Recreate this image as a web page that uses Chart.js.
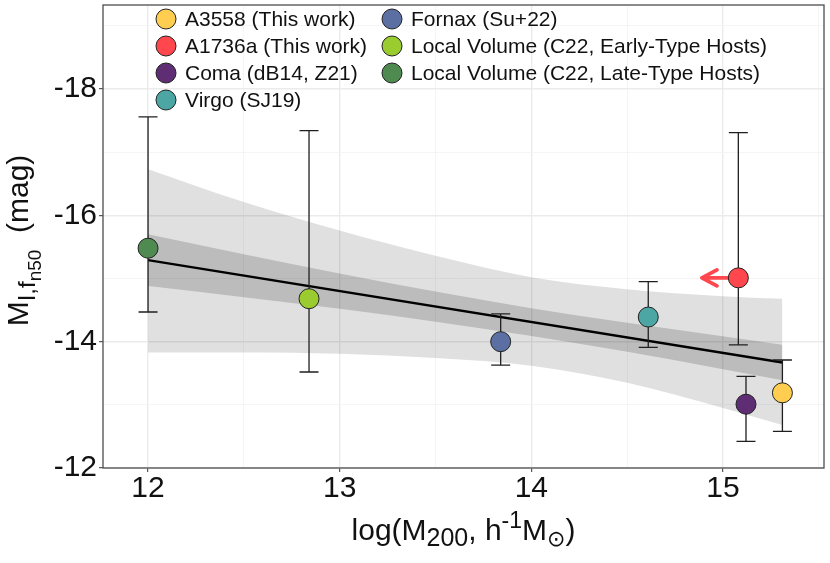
<!DOCTYPE html>
<html>
<head>
<meta charset="utf-8">
<script src="https://cdn.jsdelivr.net/npm/chart.js@4.4.1/dist/chart.umd.min.js"></script>
<style>
  html, body { margin:0; padding:0; background:#fff; }
  #c { display:block; }
</style>
</head>
<body>
<canvas id="c" width="830" height="563"></canvas>
<script>
// ---- data ----
const groups   = ['A3558 (This work)', 'A1736a (This work)', 'Coma (dB14, Z21)', 'Virgo (SJ19)',
                  'Fornax (Su+22)', 'Local Volume (C22, Early-Type Hosts)', 'Local Volume (C22, Late-Type Hosts)'];
const colors   = ['#FFCD4F', '#FF474D', '#5E2D73', '#4BA6A4', '#5C6FA2', '#9BCC2F', '#4F8A50'];
const logM200  = [15.31, 15.08, 15.12, 14.61, 13.84, 12.84, 12.00];
const magI     = [-13.19, -15.01, -13.01, -14.39, -14.00, -14.68, -15.48];
const errHi    = [-13.71, -17.31, -13.45, -14.95, -14.44, -17.34, -17.56];   // bright end
const errLo    = [-12.58, -13.95, -12.42, -13.91, -13.63, -13.52, -14.47];   // faint end
const arrowTipX = 14.89;   // A1736a mass upper limit arrow

const fitX     = [12.00, 15.31];
const fitY     = [-15.29, -13.67];

const bandX    = [12.0, 12.5, 13.0, 13.5, 14.0, 14.5, 15.0, 15.31];
const ciUpper  = [-15.70, -15.385, -15.08, -14.795, -14.53, -14.30, -14.085, -13.95];
const ciLower  = [-14.88, -14.705, -14.52, -14.315, -14.09, -13.84, -13.565, -13.39];
const piUpper  = [-16.73, -16.21, -15.76, -15.36, -15.02, -14.83, -14.72, -14.68];
const piLower  = [-13.83, -13.83, -13.81, -13.74, -13.62, -13.35, -12.95, -12.68];

const xMajor   = [12, 13, 14, 15];
const xMinor   = [12.5, 13.5, 14.5, 15.5];
const yMajor   = [-18, -16, -14, -12];
const yMinor   = [-19, -17, -15, -13];

const FONT = '"Liberation Sans", Arial, Helvetica, "DejaVu Sans", sans-serif';

const xy = (xs, ys) => xs.map((x, i) => ({ x, y: ys[i] }));
const band = (data, color, fill, order) => ({
  type: 'line', data, borderWidth: 0, pointRadius: 0, fill, backgroundColor: color,
  cubicInterpolationMode: 'monotone', order,
});

// error bars + limit arrow, drawn just before the points
const errorBars = {
  id: 'errorBars',
  beforeDatasetDraw(chart, args) {
    if(args.index !== 0) return;
    const { ctx, scales: { x, y } } = chart;
    ctx.save();
    ctx.strokeStyle = '#1f1f1f';
    ctx.lineWidth = 1.3;
    logM200.forEach((m, i) => {
      const px = x.getPixelForValue(m);
      const y1 = y.getPixelForValue(errHi[i]);
      const y2 = y.getPixelForValue(errLo[i]);
      ctx.beginPath();
      ctx.moveTo(px, y1); ctx.lineTo(px, y2);
      ctx.moveTo(px-9.5, y1); ctx.lineTo(px+9.5, y1);
      ctx.moveTo(px-9.5, y2); ctx.lineTo(px+9.5, y2);
      ctx.stroke();
    });
    // arrow for A1736a
    const ax0 = x.getPixelForValue(logM200[1]);
    const ax1 = x.getPixelForValue(arrowTipX);
    const ay  = y.getPixelForValue(magI[1]);
    ctx.strokeStyle = colors[1];
    ctx.lineWidth = 3.8;
    ctx.lineCap = 'round'; ctx.lineJoin = 'round';
    ctx.beginPath();
    ctx.moveTo(ax0, ay); ctx.lineTo(ax1, ay);
    ctx.moveTo(ax1+15, ay-8); ctx.lineTo(ax1, ay); ctx.lineTo(ax1+15, ay+8);
    ctx.stroke();
    ctx.restore();
  }
};

function richText(ctx, parts, cx, baseY) {
  const w = parts.map(p => { ctx.font = p[1]+'px '+FONT; return ctx.measureText(p[0]).width; });
  let x = cx - w.reduce((a,b)=>a+b,0)/2;
  parts.forEach((p, i) => {
    ctx.font = p[1]+'px '+FONT;
    ctx.fillText(p[0], x, baseY + p[2]);
    x += w[i];
  });
}

const decor = {
  id: 'decor',
  afterDraw(chart) {
    const { ctx, chartArea: a } = chart;
    ctx.save();
    // panel border
    ctx.strokeStyle = '#4d4d4d';
    ctx.lineWidth = 1.3;
    ctx.strokeRect(a.left, a.top, a.right-a.left, a.bottom-a.top);

    // legend (inside panel, two columns)
    const cols = [[0,1,2,3],[4,5,6]];
    const colX = [166, 392];
    ctx.textBaseline = 'middle';
    ctx.font = '21px '+FONT;
    cols.forEach((col, c) => col.forEach((gi, r) => {
      const cy = 19 + r*27;
      ctx.beginPath();
      ctx.arc(colX[c], cy, 10, 0, Math.PI*2);
      ctx.fillStyle = colors[gi]; ctx.fill();
      ctx.strokeStyle = '#222'; ctx.lineWidth = 1; ctx.stroke();
      ctx.fillStyle = '#111';
      ctx.fillText(groups[gi], colX[c]+19, cy+1);
    }));

    // axis titles
    ctx.textBaseline = 'alphabetic';
    ctx.fillStyle = '#111';
    richText(ctx, [['log(M',30,0],['200',25,6],[', h',30,0],['-1',23,-12],['M',30,0],['\u2299',22,6],[')',30,0]],
             (a.left+a.right)/2, 540);
    ctx.translate(28, (a.top+a.bottom)/2 + 4);
    ctx.rotate(-Math.PI/2);
    richText(ctx, [['M',30,0],['I,f',24,7],['n50',19,13],['  (mag)',30,0]], 0, 0);
    ctx.restore();
  }
};

new Chart(document.getElementById('c'), {
  type: 'scatter',
  data: {
    datasets: [
      { data: xy(logM200, magI), backgroundColor: colors, borderColor: '#222', borderWidth: 1,
        pointRadius: 10, pointHoverRadius: 10, order: 0 },
      { type: 'line', data: xy(fitX, fitY), borderColor: '#000', borderWidth: 2.4, pointRadius: 0, fill: false, order: 1 },
      band(xy(bandX, ciUpper), 'rgba(0,0,0,0)', false, 2),
      band(xy(bandX, ciLower), 'rgba(0,0,0,0.16)', '-1', 2),
      band(xy(bandX, piUpper), 'rgba(0,0,0,0)', false, 3),
      band(xy(bandX, piLower), 'rgba(0,0,0,0.12)', '-1', 3),
    ]
  },
  options: {
    responsive: false,
    devicePixelRatio: 1,
    animation: false,
    layout: { autoPadding: false, padding: { top: 5, right: 6, left: 0, bottom: 0 } },
    plugins: { legend: { display: false }, tooltip: { enabled: false } },
    scales: {
      x: {
        type: 'linear', min: 11.765, max: 15.527,
        afterBuildTicks: s => { s.ticks = [...xMajor, ...xMinor].sort((a,b)=>a-b).map(v => ({ value: v })); },
        afterFit: s => { s.height = 95; s.paddingLeft = 0; s.paddingRight = 0; },
        border: { display: false },
        grid: {
          color: c => xMajor.includes(c.tick.value) ? '#EBEBEB' : '#F2F2F2',
          lineWidth: c => xMajor.includes(c.tick.value) ? 1.4 : 0.8,
          tickColor: c => xMajor.includes(c.tick.value) ? '#333' : 'rgba(0,0,0,0)',
          tickLength: 4, tickWidth: 1,
        },
        ticks: {
          autoSkip: false, maxRotation: 0, padding: 2, color: '#111',
          font: { family: FONT, size: 30, lineHeight: 1 },
          callback: v => xMajor.includes(v) ? String(v) : '',
        },
      },
      y: {
        type: 'linear', reverse: true, min: -19.33, max: -12,
        afterBuildTicks: s => { s.ticks = [...yMajor, ...yMinor].sort((a,b)=>a-b).map(v => ({ value: v })); },
        afterFit: s => { s.width = 103; s.paddingTop = 0; s.paddingBottom = 0; },
        border: { display: false },
        grid: {
          color: c => yMajor.includes(c.tick.value) ? '#EBEBEB' : '#F2F2F2',
          lineWidth: c => yMajor.includes(c.tick.value) ? 1.4 : 0.8,
          tickColor: c => yMajor.includes(c.tick.value) ? '#333' : 'rgba(0,0,0,0)',
          tickLength: 4, tickWidth: 1,
        },
        ticks: {
          autoSkip: false, padding: 2, color: '#111',
          font: { family: FONT, size: 30, lineHeight: 1 },
          callback: v => yMajor.includes(v) ? String(v) : '',
        },
      },
    },
  },
  plugins: [errorBars, decor],
});
</script>
</body>
</html>
